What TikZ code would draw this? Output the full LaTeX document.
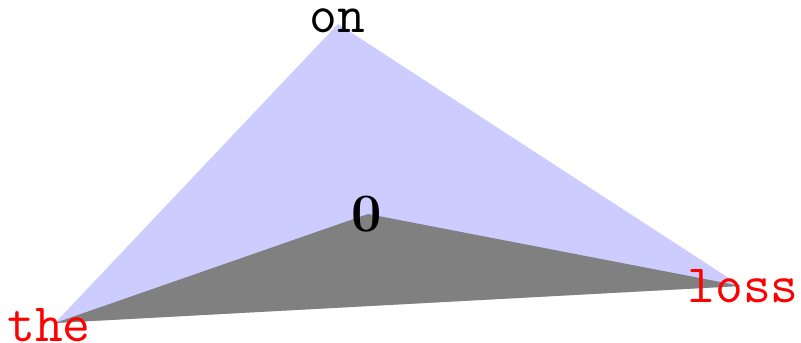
\documentclass[tikz,border=0pt]{standalone}
\begin{document}
\begin{tikzpicture}[x=0.01716cm, y=-0.01716cm,
    font=\fontsize{26.4}{32}\selectfont\ttfamily,
    lbl/.style={inner sep=0pt}]
        \useasboundingbox (0,0) rectangle (801,343);

        \coordinate (the) at (55,323);
        \coordinate (on) at (338,24);
        \coordinate (zero) at (368,214);
        \coordinate (loss) at (741,286);

        \fill[blue!20] (the) -- (on) -- (loss) -- cycle;
        \fill[gray] (the) -- (zero) -- (loss) -- cycle;

        \node[lbl, text=red] (the-lbl) at (49,325) {the};
        \node[lbl] (on-lbl) at (337,21) {on};
        \node[lbl, font=\fontsize{26.4}{32}\selectfont\rmfamily\bfseries] (zero-lbl) at (367,214) {0};
        \node[lbl, text=red] (loss-lbl) at (743,286) {loss};
    \end{tikzpicture}
\end{document}
